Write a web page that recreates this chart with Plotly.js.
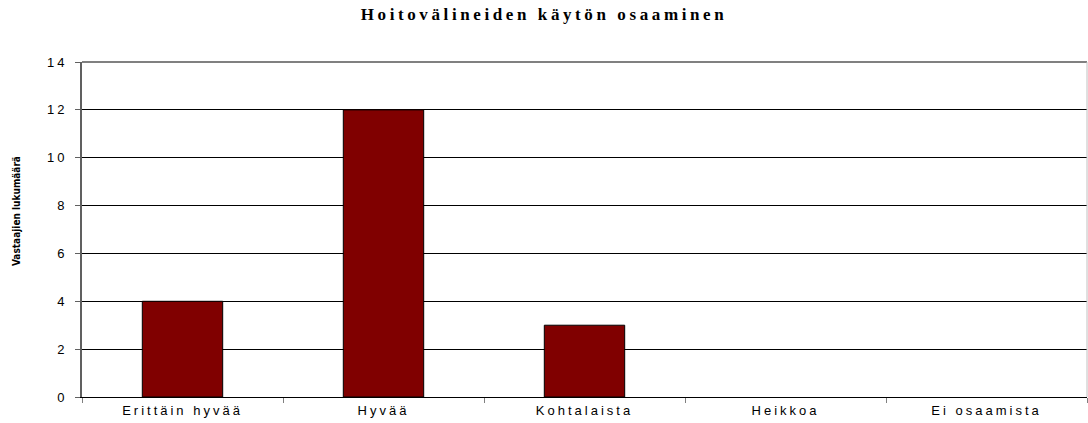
<!DOCTYPE html>
<html>
<head>
<meta charset="utf-8">
<script src="https://cdn.plot.ly/plotly-3.0.1.min.js"></script>
<style>
html,body{margin:0;padding:0;background:#fff;}
#chart{width:1088px;height:423px;}
#chart .gtitle{letter-spacing:3.6px;}
#chart .xtick text,#chart .ytick text{letter-spacing:3px;}
</style>
</head>
<body>
<div id="chart"></div>
<script>
const categories = ["Erittäin hyvää", "Hyvää", "Kohtalaista", "Heikkoa", "Ei osaamista"];
const values = [4, 12, 3, 0, 0];
const yTicks = [0, 2, 4, 6, 8, 10, 12, 14];

const trace = {
  type: "bar",
  x: categories,
  y: values,
  width: 0.4,
  marker: {color: "#800000", line: {color: "#000000", width: values.map(v => v > 0 ? 1 : 0)}},
  hoverinfo: "x+y"
};

const layout = {
  width: 1088,
  height: 423,
  margin: {l: 82, r: 1, t: 62, b: 26},
  paper_bgcolor: "#ffffff",
  plot_bgcolor: "#ffffff",
  showlegend: false,
  title: {
    text: "<b>Hoitovälineiden käytön osaaminen</b>",
    font: {family: "Liberation Serif, Times New Roman, serif", size: 17, color: "#000"},
    x: 0.5, xanchor: "center", y: 0.967, yanchor: "middle"
  },
  xaxis: {
    type: "category",
    range: [-0.5, 4.5],
    tickson: "boundaries",
    ticks: "outside",
    ticklen: 5,
    tickcolor: "#808080",
    showline: true,
    linecolor: "#000000",
    linewidth: 1,
    showgrid: false,
    ticklabelstandoff: 1,
    tickfont: {family: "Liberation Sans, Arial, sans-serif", size: 13, color: "#000"}
  },
  yaxis: {
    range: [0, 14],
    tickvals: yTicks,
    ticktext: yTicks.map(String),
    ticks: "outside",
    ticklen: 5,
    tickcolor: "#606060",
    showline: true,
    linecolor: "#606060",
    linewidth: 2,
    showgrid: true,
    gridcolor: "#000000",
    gridwidth: 1,
    zeroline: false,
    ticklabelstandoff: 5,
    tickfont: {family: "Liberation Sans, Arial, sans-serif", size: 13, color: "#000"}
  },
  annotations: [{
    text: "<b>Vastaajien lukumäärä</b>",
    xref: "paper", yref: "paper",
    x: -0.0657, y: 0.555,
    xanchor: "center", yanchor: "middle",
    textangle: -90,
    showarrow: false,
    font: {family: "DejaVu Sans Condensed, Liberation Sans Narrow, Arial, sans-serif", size: 10, color: "#000"}
  }],
  shapes: [
    {type: "line", xref: "paper", yref: "paper", x0: 0, x1: 1, y0: 1, y1: 1, line: {color: "#808080", width: 2}, layer: "above"},
    {type: "line", xref: "paper", yref: "paper", x0: 1, x1: 1, y0: 0, y1: 1, line: {color: "#c0c0c0", width: 1}, layer: "above"}
  ],
  bargap: 0.6
};

Plotly.newPlot("chart", [trace], layout, {displayModeBar: false, staticPlot: true});
</script>
</body>
</html>
